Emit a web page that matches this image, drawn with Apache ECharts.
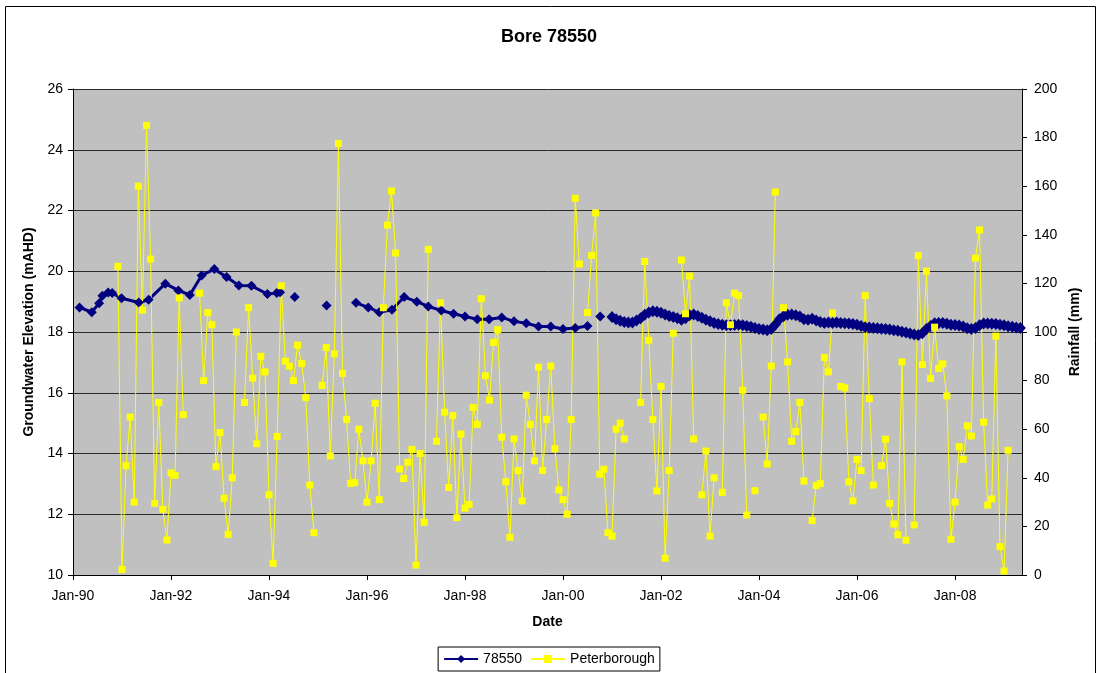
<!DOCTYPE html>
<html>
<head>
<meta charset="utf-8">
<title>Bore 78550</title>
<script src="https://cdn.jsdelivr.net/npm/echarts@6/dist/echarts.min.js"></script>
<style>
  html, body { margin: 0; padding: 0; background: #fff; }
  #chart { width: 1098px; height: 673px; }
</style>
</head>
<body>
<div id="chart"></div>
<script>
// bore 78550 readings (mAHD) up to 2000, null = break in the line
const boreDates = [
  '1990-02-19', '1990-05-19', '1990-07-13', '1990-08-07', '1990-09-19', '1990-10-19', '1990-12-28',
  '1991-05-04', '1991-07-16', '1991-11-19', '1992-02-25', '1992-05-19', '1992-08-16', '1992-11-19',
  '1993-02-19', '1993-05-19', '1993-08-22', '1993-12-19', '1994-02-28', '1994-03-22',
  '1994-05-01', '1994-07-10', '1994-11-01', '1995-03-04', '1995-07-01',
  '1995-10-10', '1996-01-10', '1996-04-01', '1996-07-04', '1996-10-04', '1997-01-07', '1997-04-01',
  '1997-07-07', '1997-10-07', '1998-01-01', '1998-04-01', '1998-06-28', '1998-10-01', '1999-01-01',
  '1999-04-01', '1999-07-01', '1999-10-01', '2000-01-01', '2000-04-01', '2000-07-01',
  '2000-08-15', '2000-10-04', '2000-11-15'
]
const boreLevels = [
  18.81, 18.65, 18.95, 19.19, 19.30, 19.28, 19.11,
  18.97, 19.06, 19.59, 19.37, 19.22, 19.86, 20.07,
  19.81, 19.53, 19.52, 19.25, 19.28, 19.31,
  null, 19.15, null, 18.87, null,
  18.96, 18.81, 18.65, 18.73, 19.15, 19.00, 18.84,
  18.71, 18.60, 18.51, 18.42, 18.42, 18.48, 18.35,
  18.29, 18.18, 18.18, 18.10, 18.13, 18.20,
  null, 18.51, null
]

// from Jan-01 the bore is logged monthly
const boreMonthlyStart = '2001-01'
const boreMonthly = [
  18.49, 18.42, 18.37, 18.33, 18.31, 18.31, 18.38, 18.45, 18.57, 18.64, 18.68, 18.67,
  18.63, 18.58, 18.53, 18.49, 18.45, 18.40, 18.45, 18.55, 18.58, 18.53, 18.47, 18.40,
  18.35, 18.30, 18.26, 18.24, 18.22, 18.22, 18.23, 18.24, 18.22, 18.20, 18.17, 18.13,
  18.10, 18.08, 18.06, 18.10, 18.25, 18.42, 18.52, 18.57, 18.58, 18.55, 18.51, 18.42,
  18.40, 18.44, 18.38, 18.33, 18.30, 18.31, 18.30, 18.31, 18.30, 18.29, 18.28, 18.26,
  18.24, 18.20, 18.16, 18.15, 18.13, 18.12, 18.11, 18.10, 18.08, 18.06, 18.04, 18.01,
  17.98, 17.95, 17.92, 17.90, 17.96, 18.10, 18.20, 18.29, 18.30, 18.30, 18.27, 18.24,
  18.23, 18.21, 18.18, 18.12, 18.10, 18.13, 18.22, 18.28, 18.28, 18.27, 18.26, 18.24,
  18.22, 18.19, 18.17, 18.15, 18.13
]

// Peterborough monthly rainfall (mm), starts Dec-90
const rainStart = '1990-12'
const rainfall = [
  127,
  2.3, 45, 65, 30, 160, 109, 185, 130, 29.5, 71, 27, 14.4,
  42, 41, 114, 66, null, null, null, 116, 80, 108, 103, 44.6,
  58.6, 31.6, 16.7, 40, 100, null, 71, 110, 81, 54, 90, 83.6,
  33, 4.8, 57, 119, 88, 86, 80, 94.6, 87, 73, 37, 17.4,
  null, 78, 93.6, 49, 91, 177.6, 83, 64, 37.7, 38, 60, 47,
  30, 47, 70.7, 31, 110, 144, 158, 132.5, 43.6, 39.7, 46.4, 51.7,
  4.1, 50, 21.7, 134, null, 55, 112, 67, 36, 65.6, 23.6, 58,
  27.5, 29, 69, 62, 113.7, 82, 72, 95.7, 101, 56.7, 38.4, 15.5,
  56, 43, 30.5, 74, 62, 47, 85.5, 43, 64, 86, 52, 35,
  31, 25, 64, 155, 128, null, 108, 131.5, 149, 41.5, 43.5, 17.4,
  16, 60, 62.5, 56, null, null, null, 71, 129, 96.6, 64, 34.6,
  77.6, 6.9, 43, 99.5, null, 129.6, 107.5, 123, 56, null, 33, 51,
  16, 40, null, 34, 112, 103, 116, 115, 76, 24.7, null, 34.7,
  null, 65, 45.7, 86, 157.6, null, 110, 87.7, 55, 59, 71, 38.7,
  null, 22.4, 36.8, 37.6, 89.5, 83.6, 107.8, null, 77.6, 77, 38.3, 30.5,
  47.6, 43, 115, 72.6, 37, null, 45, 55.9, 29.5, 21, 16.6, 87.7,
  14.3, null, 20.6, 131.4, 86.6, 125, 80.9, 102, 85, 86.9, 73.7, 14.7,
  30, 52.8, 47.6, 61.4, 57.2, 130.4, 142, 62.9, 28.8, 31.3, 98.3, 11.7,
  1.6, 51.3
]

const dateTicks = ['Jan-90', 'Jan-92', 'Jan-94', 'Jan-96', 'Jan-98', 'Jan-00', 'Jan-02', 'Jan-04', 'Jan-06', 'Jan-08']

// x axis runs in months counted from Jan-90
function toMonths(s) {
  const [y, m, d] = s.split('-').map(Number)
  return (y - 1990) * 12 + (m - 1) + ((d || 1) - 1) / 30
}

const bandFrom = toMonths(boreMonthlyStart)
const boreData = boreDates.map((d, i) => [toMonths(d), boreLevels[i] == null ? '-' : boreLevels[i]])
  .concat(boreMonthly.map((v, i) => [bandFrom + i, v]))
const rainData = rainfall.map((v, i) => [toMonths(rainStart) + i, v == null ? '-' : v])

const font = 'Liberation Sans, Arial, sans-serif'

const chart = echarts.init(document.getElementById('chart'))
chart.setOption({
  animation: false,
  backgroundColor: '#fff',
  textStyle: {fontFamily: font, color: '#000'},
  title: {
    text: 'Bore 78550',
    left: 'center',
    top: 23,
    textStyle: {fontFamily: font, fontSize: 18, fontWeight: 'bold', color: '#000'}
  },
  graphic: [{
    type: 'rect',
    shape: {x: 5.5, y: 6.5, width: 1090, height: 700},
    style: {fill: 'none', stroke: '#000', lineWidth: 1},
    silent: true
  }],
  legend: {
    bottom: 2,
    left: 'center',
    itemWidth: 34,
    itemHeight: 10,
    itemGap: 8,
    padding: [5, 5],
    borderColor: '#000',
    borderWidth: 1,
    borderRadius: 0,
    textStyle: {fontFamily: font, fontSize: 14, color: '#000'},
    data: ['78550', 'Peterborough']
  },
  grid: {
    left: 73,
    right: 76,
    top: 89,
    bottom: 98,
    show: true,
    backgroundColor: '#C0C0C0',
    borderWidth: 0
  },
  xAxis: {
    type: 'value',
    min: 0,
    max: 232.4,
    interval: 24,
    name: 'Date',
    nameLocation: 'middle',
    nameGap: 40,
    nameTextStyle: {fontFamily: font, fontSize: 14, fontWeight: 'bold', color: '#000'},
    axisLine: {onZero: false, lineStyle: {color: '#000', width: 1}},
    axisTick: {show: true, length: 5, lineStyle: {color: '#000'}},
    axisLabel: {
      fontFamily: font, fontSize: 14, color: '#000', margin: 14,
      showMaxLabel: false,
      formatter: v => dateTicks[Math.round(v / 24)] || ''
    },
    splitLine: {show: false}
  },
  yAxis: [{
    type: 'value',
    min: 10,
    max: 26,
    interval: 2,
    name: 'Groundwater Elevation (mAHD)',
    nameLocation: 'middle',
    nameGap: 37,
    nameTextStyle: {fontFamily: font, fontSize: 14, fontWeight: 'bold', color: '#000'},
    axisLine: {show: true, lineStyle: {color: '#000', width: 1}},
    axisTick: {show: true, length: 5, lineStyle: {color: '#000'}},
    axisLabel: {fontFamily: font, fontSize: 14, color: '#000', margin: 10},
    splitLine: {show: true, lineStyle: {color: '#2a2a2a', width: 1}}
  }, {
    type: 'value',
    min: 0,
    max: 200,
    interval: 20,
    position: 'right',
    name: 'Rainfall (mm)',
    nameLocation: 'middle',
    nameGap: 46,
    nameTextStyle: {fontFamily: font, fontSize: 14, fontWeight: 'bold', color: '#000'},
    axisLine: {show: true, lineStyle: {color: '#000', width: 1}},
    axisTick: {show: true, length: 5, lineStyle: {color: '#000'}},
    axisLabel: {fontFamily: font, fontSize: 14, color: '#000', margin: 12},
    splitLine: {show: false}
  }],
  series: [{
    name: '78550',
    type: 'line',
    yAxisIndex: 0,
    data: boreData,
    symbol: 'diamond',
    // the monthly logging from 2001 reads as a thick band of markers
    symbolSize: (val) => val[0] >= bandFrom ? [11, 12] : 10,
    showAllSymbol: true,
    connectNulls: false,
    lineStyle: {color: '#000080', width: 3},
    itemStyle: {color: '#000080'}
  }, {
    name: 'Peterborough',
    type: 'line',
    yAxisIndex: 1,
    data: rainData,
    symbol: 'rect',
    symbolSize: 7,
    showAllSymbol: true,
    connectNulls: false,
    lineStyle: {color: '#FFFF00', width: 1},
    itemStyle: {color: '#FFFF00'}
  }]
})
</script>
</body>
</html>
